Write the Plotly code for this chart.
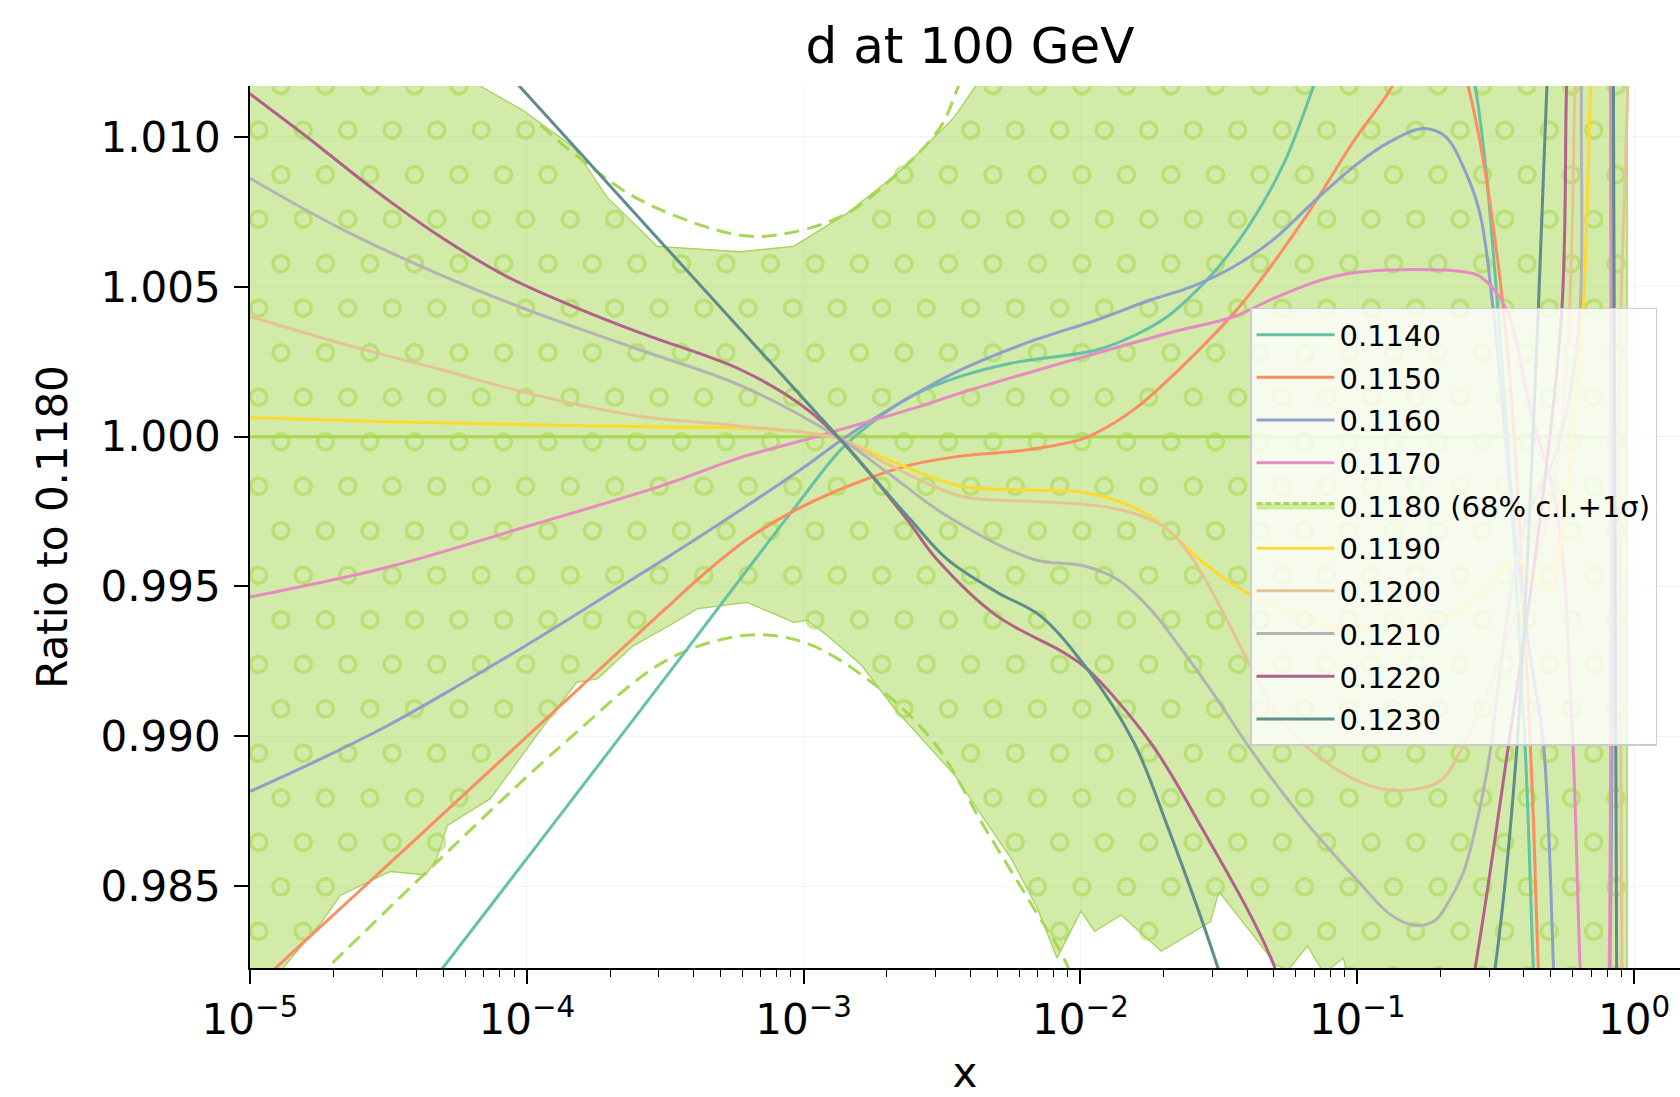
import numpy as np
import plotly.graph_objects as go

# ---------------------------------------------------------------------------
# Ratio of the d-quark PDF at Q = 100 GeV for several alpha_s values,
# normalised to the alpha_s = 0.1180 central member.
# Each curve: log10(x) nodes and ratio values.
# ---------------------------------------------------------------------------
LX_1140 = [-5.0, -4.303, -4.0, -3.5, -3.036, -2.862, -2.723, -2.6, -2.434, -2.25, -1.939,
           -1.8, -1.687, -1.6, -1.507, -1.387, -1.266, -1.159, -1.05, -0.95, -0.8, -0.68,
           -0.574, -0.492, -0.394, -0.364, -0.33]
R_1140 = [0.97387, 0.98228, 0.98592, 0.99195, 0.99758, 0.99960, 1.00068, 1.00140, 1.00201,
          1.00245, 1.00290, 1.00340, 1.00400, 1.00470, 1.00560, 1.00710, 1.00910, 1.01166,
          1.01450, 1.01700, 1.01900, 1.01600, 1.01170, 1.00424, 0.98969, 0.98228, 0.97600]

LX_1150 = [-5.0, -4.9, -4.5, -4.0, -3.5, -3.35, -3.2, -3.05, -2.868, -2.628, -2.434, -2.2,
           -2.0, -1.939, -1.8, -1.619, -1.42, -1.194, -1.011, -0.876, -0.76, -0.68, -0.6,
           -0.472, -0.375, -0.346, -0.32]
R_1150 = [0.98148, 0.98233, 0.98573, 0.98999, 0.99425, 0.99550, 0.99660, 0.99745, 0.99824,
          0.99902, 0.99935, 0.99955, 0.99990, 1.00014, 1.00095, 1.00246, 1.00440, 1.00723,
          1.00989, 1.01166, 1.01400, 1.01380, 1.01170, 1.00424, 0.98969, 0.98228, 0.97650]

LX_1160 = [-5.0, -4.75, -4.5, -4.25, -4.0, -3.75, -3.5, -3.25, -3.0, -2.862, -2.713, -2.455,
           -2.197, -1.939, -1.748, -1.6, -1.45, -1.3, -1.15, -1.0, -0.88, -0.761, -0.68,
           -0.617, -0.557, -0.509, -0.45, -0.38, -0.327, -0.291, -0.27, -0.2, -0.12, -0.095,
           -0.075]
R_1160 = [0.98816, 0.98922, 0.99037, 0.99168, 0.99305, 0.99448, 0.99593, 0.99742, 0.99897,
          0.99990, 1.00079, 1.00213, 1.00312, 1.00390, 1.00456, 1.00500, 1.00565, 1.00660,
          1.00790, 1.00910, 1.00985, 1.01028, 1.01000, 1.00900, 1.00745, 1.00424, 0.99850,
          0.99300, 0.98969, 0.98228, 0.97700, 0.97550, 0.97550, 0.97900, 1.02000]

LX_1170 = [-5.0, -4.5, -4.0, -3.5, -3.229, -2.952, -2.862, -2.6, -2.434, -2.2, -1.939,
           -1.681, -1.447, -1.3, -1.145, -1.026, -0.881, -0.7, -0.617, -0.557, -0.461,
           -0.375, -0.278, -0.225, -0.195, -0.17, -0.12, -0.10, -0.088]
R_1170 = [0.99465, 0.99565, 0.99700, 0.99840, 0.99930, 1.00000, 1.00025, 1.00095, 1.00145,
          1.00210, 1.00279, 1.00346, 1.00400, 1.00462, 1.00518, 1.00545, 1.00556, 1.00556,
          1.00550, 1.00535, 1.00424, 1.00090, 0.99750, 0.99050, 0.98228, 0.97700, 0.97600,
          0.97800, 1.02000]

LX_1190 = [-5.0, -4.5, -4.0, -3.5, -3.229, -3.0, -2.862, -2.7, -2.434, -2.2, -2.0, -1.85,
           -1.75, -1.65, -1.55, -1.42, -1.25, -1.06, -0.9, -0.695, -0.55, -0.418, -0.36,
           -0.31, -0.26, -0.22, -0.184, -0.157, -0.14]
R_1190 = [1.00063, 1.00050, 1.00040, 1.00032, 1.00029, 1.00015, 0.99990, 0.99925, 0.99835,
          0.99822, 0.99815, 0.99780, 0.99735, 0.99660, 0.99575, 0.99490, 0.99415, 0.99358,
          0.99362, 0.99391, 0.99476, 0.99591, 0.99529, 0.99481, 0.99670, 1.00030, 1.00424,
          1.01170, 1.01600]

LX_1200 = [-5.0, -4.674, -4.312, -3.951, -3.59, -3.229, -2.862, -2.7, -2.434, -2.2, -2.0,
           -1.85, -1.70, -1.6, -1.5, -1.4, -1.279, -1.1, -0.95, -0.834, -0.7, -0.617, -0.55,
           -0.45, -0.35, -0.28, -0.24, -0.222, -0.21, -0.15, -0.07, -0.055, -0.04]
R_1200 = [1.00401, 1.00312, 1.00224, 1.00135, 1.00068, 1.00035, 0.99990, 0.99910, 0.99802,
          0.99785, 0.99775, 0.99755, 0.99700, 0.99600, 0.99440, 0.99260, 0.99060, 0.98905,
          0.98834, 0.98820, 0.98852, 0.98969, 0.99100, 0.99350, 0.99600, 0.99900, 1.00300,
          1.00750, 1.01250, 1.02000, 1.02000, 1.00000, 0.97600]

LX_1210 = [-5.0, -4.674, -4.312, -3.951, -3.59, -3.229, -2.862, -2.7, -2.482, -2.171,
           -1.989, -1.869, -1.748, -1.627, -1.507, -1.387, -1.207, -1.0, -0.88, -0.797,
           -0.72, -0.677, -0.616, -0.568, -0.532, -0.517, -0.45, -0.38, -0.30, -0.24,
           -0.195, -0.19, -0.17]
R_1210 = [1.00862, 1.00695, 1.00540, 1.00407, 1.00289, 1.00171, 0.99990, 0.99882, 0.99735,
          0.99591, 0.99569, 0.99525, 0.99425, 0.99280, 0.99125, 0.98959, 0.98738, 0.98520,
          0.98405, 0.98370, 0.98385, 0.98437, 0.98548, 0.98715, 0.98881, 0.98969, 0.99450,
          0.99750, 0.99900, 1.00100, 1.00424, 1.01170, 1.01800]

LX_1220 = [-5.0, -4.794, -4.553, -4.312, -4.072, -3.831, -3.59, -3.229, -3.0, -2.862,
           -2.627, -2.519, -2.302, -2.061, -1.976, -1.748, -1.567, -1.302, -1.2, -1.0,
           -0.7, -0.574, -0.454, -0.35, -0.261, -0.244, -0.23]
R_1220 = [1.01144, 1.01000, 1.00825, 1.00667, 1.00534, 1.00434, 1.00346, 1.00224, 1.00100,
          0.99985, 0.99724, 0.99591, 0.99402, 0.99280, 0.99225, 0.98981, 0.98703, 0.98238,
          0.97900, 0.97600, 0.97600, 0.98228, 0.98969, 0.99650, 1.00424, 1.01170, 1.01500]

LX_1230 = [-5.0, -4.5, -4.024, -3.5, -3.0, -2.862, -2.615, -2.482, -2.3, -2.145, -1.976,
           -1.808, -1.687, -1.507, -1.4, -1.2, -0.8, -0.6, -0.502, -0.423, -0.346, -0.315,
           -0.29, -0.2, -0.09, -0.075, -0.063, -0.05]
R_1230 = [1.02160, 1.01652, 1.01167, 1.00634, 1.00126, 0.99985, 0.99724, 0.99591, 0.99480,
          0.99402, 0.99225, 0.98981, 0.98703, 0.98238, 0.97900, 0.97600, 0.97600, 0.97700,
          0.98228, 0.98969, 1.00424, 1.01170, 1.01600, 1.02000, 1.02000, 1.01200, 0.98200,
          0.97500]

# central member and its uncertainty band (68% c.l. and 1-sigma)
LX_CENTRAL = [-5.0, -0.025]
R_CENTRAL = [1.0, 1.0]

LX_CL_UP = [-5.0, -4.3, -4.168, -4.013, -3.831, -3.711, -3.529, -3.23, -3.037, -2.843,
            -2.648, -2.455, -2.377, -2.2, -1.0, -0.025]
R_CL_UP = [1.0200, 1.0135, 1.0117, 1.01088, 1.00966, 1.0080, 1.00635, 1.00617, 1.00635,
           1.00745, 1.00889, 1.01067, 1.01172, 1.0140, 1.0200, 1.0200]

LX_CL_LO = [-5.0, -4.88, -4.739, -4.673, -4.493, -4.365, -4.326, -4.287, -4.132, -4.042,
            -3.938, -3.82, -3.745, -3.616, -3.486, -3.385, -3.204, -3.036, -2.987, -2.916,
            -2.791, -2.671, -2.551, -2.454, -2.374, -2.25, -2.156, -2.085, -1.998, -1.949,
            -1.853, -1.708, -1.53, -1.50, -1.358, -1.296, -1.25, -1.18, -1.12, -1.05, -0.99,
            -0.5, -0.025]
R_CL_LO = [0.9790, 0.98228, 0.98383, 0.98470, 0.98549, 0.98537, 0.98592, 0.98703, 0.98792,
           0.98903, 0.99036, 0.99180, 0.99192, 0.99302, 0.99369, 0.99425, 0.99447, 0.99380,
           0.99387, 0.99337, 0.99237, 0.99092, 0.98969, 0.98870, 0.98759, 0.98592, 0.98427,
           0.98260, 0.98417, 0.98349, 0.98404, 0.98283, 0.98382, 0.98482, 0.98315, 0.98238,
           0.98220, 0.98300, 0.98210, 0.98260, 0.9800, 0.9750, 0.9750]

LX_SIG_UP = [-3.95, -3.903, -3.831, -3.59, -3.229, -3.05, -2.843, -2.674, -2.506, -2.442,
             -2.38]
R_SIG_UP = [1.0104, 1.0100, 1.00945, 1.00789, 1.00672, 1.00680, 1.00745, 1.00867, 1.01033,
            1.01166, 1.0130]

LX_SIG_LO = [-5.0, -4.714, -4.312, -3.875, -3.487, -3.204, -3.0, -2.771, -2.531, -2.351,
             -2.169, -2.049, -1.95]
R_SIG_LO = [0.97977, 0.98233, 0.98592, 0.98969, 0.99258, 0.99337, 0.99314, 0.99192,
            0.98982, 0.98703, 0.98427, 0.98238, 0.9795]

LABELS = ["0.1140", "0.1150", "0.1160", "0.1170", "0.1190", "0.1200", "0.1210",
          "0.1220", "0.1230"]
COLORS = ["#66c2a5", "#fc8d62", "#8da0cb", "#e78ac3", "#ffd92f", "#e5c494", "#b3b3b3",
          "#b3608a", "#5e8d8c"]
CURVES = [(LX_1140, R_1140), (LX_1150, R_1150), (LX_1160, R_1160), (LX_1170, R_1170),
          (LX_1190, R_1190), (LX_1200, R_1200), (LX_1210, R_1210), (LX_1220, R_1220),
          (LX_1230, R_1230)]
BAND_LABEL = "0.1180 (68% c.l.+1σ)"
GREEN = "#a6d854"

X_TICKS = [1e-5, 1e-4, 1e-3, 1e-2, 1e-1, 1e0]
X_TICKTEXT = ["10<sup>−5</sup>", "10<sup>−4</sup>", "10<sup>−3</sup>", "10<sup>−2</sup>",
              "10<sup>−1</sup>", "10<sup>0</sup>"]
Y_TICKS = [0.985, 0.990, 0.995, 1.000, 1.005, 1.010]

X_RANGE = [-5.0, 0.1658]
Y_RANGE = [0.98227, 1.0117]


def to_x(lx):
    return [10.0 ** v for v in lx]


fig = go.Figure()

# 68% c.l. band as a closed polygon
band_lx = LX_CL_UP + LX_CL_LO[::-1]
band_r = R_CL_UP + R_CL_LO[::-1]
fig.add_trace(go.Scatter(
    x=to_x(band_lx), y=band_r, mode="lines", fill="toself",
    fillcolor="rgba(166,216,84,0.5)",
    line=dict(color="rgba(150,206,70,0.85)", width=1.3),
    showlegend=False, hoverinfo="skip"))

# circle hatch inside the band, on a staggered lattice in axis units
plot_w = 1680 - 250
plot_h = 969.6 - 85.7
dec_px = plot_w / (X_RANGE[1] - X_RANGE[0])
unit_px = plot_h / (Y_RANGE[1] - Y_RANGE[0])
pitch_x = 44.5 / dec_px
pitch_y = 44.6 / unit_px
hx0 = X_RANGE[0] + 8.7 / dec_px
hy0 = Y_RANGE[1] - (130.0 - 85.7) / unit_px
margin_y = 4.0 / unit_px
hatch_lx, hatch_r = [], []
for j in range(-2, 23):
    yy = hy0 - j * pitch_y
    shift = (j % 2) * pitch_x / 2.0
    for k in range(-1, 36):
        lx = hx0 + k * pitch_x + shift
        if lx < X_RANGE[0] or lx > LX_CL_UP[-1] - 0.03:
            continue
        top = np.interp(lx, LX_CL_UP, R_CL_UP)
        bot = np.interp(lx, LX_CL_LO, R_CL_LO)
        if bot + margin_y < yy < top - margin_y:
            hatch_lx.append(lx)
            hatch_r.append(yy)
fig.add_trace(go.Scatter(
    x=to_x(hatch_lx), y=hatch_r, mode="markers",
    marker=dict(symbol="circle-open", size=16, color="rgba(166,216,84,0.6)",
                line=dict(width=3.5, color="rgba(166,216,84,0.6)")),
    showlegend=False, hoverinfo="skip"))

# 1-sigma envelope (dashed)
for lx, rr in [(LX_SIG_UP, R_SIG_UP), (LX_SIG_LO, R_SIG_LO)]:
    fig.add_trace(go.Scatter(
        x=to_x(lx), y=rr, mode="lines",
        line=dict(color=GREEN, width=3, dash="15px,8px", shape="spline"),
        showlegend=False, hoverinfo="skip"))

# central line
fig.add_trace(go.Scatter(
    x=to_x(LX_CENTRAL), y=R_CENTRAL, mode="lines",
    line=dict(color=GREEN, width=3), showlegend=False, hoverinfo="skip"))

# legend entry for the band
fig.add_trace(go.Scatter(
    x=[None], y=[None], mode="lines", fill="toself", name=BAND_LABEL,
    legendgroup="g5", legendrank=5,
    fillcolor="rgba(166,216,84,0.5)",
    line=dict(color=GREEN, width=3, dash="6px,3px")))

ranks = [1, 2, 3, 4, 6, 7, 8, 9, 10]
for (lx, rr), lab, col, rk in zip(CURVES, LABELS, COLORS, ranks):
    fig.add_trace(go.Scatter(
        x=to_x(lx), y=rr, mode="lines", name=lab, legendrank=rk,
        legendgroup="g%d" % rk,
        line=dict(color=col, width=3, shape="spline", smoothing=1.0)))

FONT = "DejaVu Sans"
fig.update_layout(
    width=1680, height=1097,
    margin=dict(l=250, r=0, t=86, b=127),
    paper_bgcolor="white", plot_bgcolor="white",
    font=dict(family=FONT, size=42, color="black"),
    title=dict(text="d at 100 GeV", x=970 / 1680, xref="container", xanchor="center",
               y=1 - 45 / 1097, yref="container", yanchor="middle",
               font=dict(family=FONT, size=50, color="black")),
    showlegend=True,
    legend=dict(x=(1250 - 250) / 1430, y=(969.6 - 308) / 883.9, xanchor="left",
                yanchor="top", bgcolor="rgba(255,255,255,0.8)", bordercolor="#cccccc",
                borderwidth=1.5, font=dict(family=FONT, size=29, color="black"),
                itemwidth=78, traceorder="grouped", tracegroupgap=2),
)
fig.update_xaxes(
    type="log", range=X_RANGE, tickvals=X_TICKS, ticktext=X_TICKTEXT,
    showline=True, linecolor="black", linewidth=1.8, mirror=False,
    ticks="outside", ticklen=14, tickwidth=1.8, tickcolor="black",
    showgrid=True, gridcolor="#f3f3f3", gridwidth=1, zeroline=False,
    minor=dict(ticks="outside", ticklen=7, tickwidth=1.2, tickcolor="black",
               tickvals=[m * 10.0 ** e for e in range(-5, 1) for m in range(2, 10)],
               showgrid=False),
    title=dict(text="x", standoff=23, font=dict(family=FONT, size=42)),
    tickfont=dict(family=FONT, size=42),
)
fig.update_yaxes(
    range=Y_RANGE, tickvals=Y_TICKS, tickformat=".3f",
    showline=True, linecolor="black", linewidth=1.8,
    ticks="outside", ticklen=14, tickwidth=1.8, tickcolor="black",
    showgrid=True, gridcolor="#f3f3f3", gridwidth=1, zeroline=False,
    ticklabelstandoff=5,
    title=dict(text="Ratio to 0.1180", standoff=20, font=dict(family=FONT, size=42)),
    tickfont=dict(family=FONT, size=42),
)

fig.write_html("out.html")
